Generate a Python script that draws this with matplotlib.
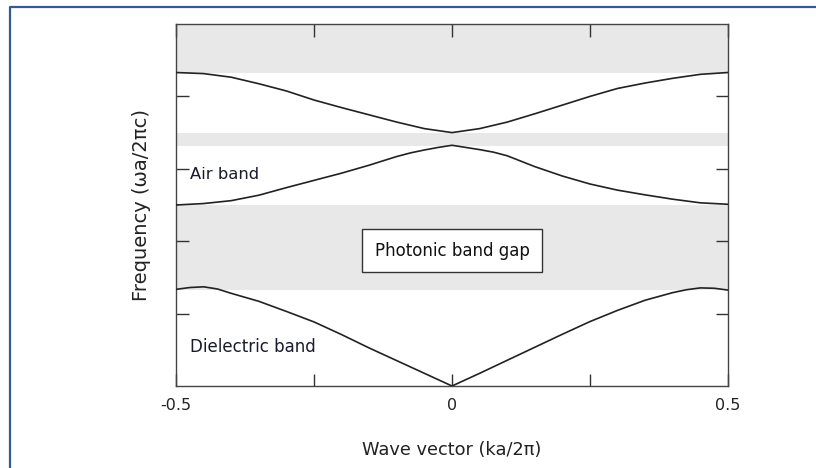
import matplotlib
matplotlib.use("Agg")
import matplotlib.pyplot as plt
from matplotlib.lines import Line2D

# band data (x in ka/2pi, y in wa/2pic, scaled 0..1)
x_diel = [-0.5, -0.475, -0.45, -0.425, -0.4, -0.35, -0.3, -0.25, -0.2, -0.15, -0.1, -0.05, 0.0,
          0.05, 0.1, 0.15, 0.2, 0.25, 0.3, 0.35, 0.4, 0.425, 0.45, 0.475, 0.5]
y_diel = [0.267, 0.272, 0.274, 0.268, 0.256, 0.234, 0.206, 0.177, 0.142, 0.105, 0.070, 0.035, 0.0,
          0.035, 0.071, 0.107, 0.143, 0.178, 0.209, 0.237, 0.258, 0.266, 0.271, 0.270, 0.265]

x_air = [-0.5, -0.45, -0.4, -0.35, -0.3, -0.25, -0.2, -0.15, -0.1, -0.075, -0.05, -0.025, 0.0,
         0.025, 0.05, 0.075, 0.1, 0.15, 0.2, 0.25, 0.3, 0.35, 0.4, 0.45, 0.5]
y_air = [0.500, 0.504, 0.512, 0.527, 0.548, 0.568, 0.588, 0.610, 0.634, 0.644, 0.652, 0.659, 0.665,
         0.659, 0.653, 0.646, 0.636, 0.606, 0.580, 0.558, 0.541, 0.528, 0.516, 0.506, 0.502]

x_top = [-0.5, -0.45, -0.4, -0.35, -0.3, -0.25, -0.2, -0.15, -0.1, -0.05, 0.0,
         0.05, 0.1, 0.15, 0.2, 0.25, 0.3, 0.35, 0.4, 0.45, 0.5]
y_top = [0.866, 0.863, 0.853, 0.835, 0.815, 0.790, 0.769, 0.749, 0.729, 0.711, 0.700,
         0.711, 0.729, 0.752, 0.776, 0.800, 0.822, 0.837, 0.850, 0.861, 0.866]

# photonic gaps (lower, upper)
gaps = [(0.265, 0.500), (0.664, 0.700), (0.866, 1.0)]

xticks = [-0.5, -0.25, 0, 0.25, 0.5]
xticklabels = ["-0.5", "", "0", "", "0.5"]
yticks = [0.2, 0.4, 0.6, 0.8]

fig = plt.figure(figsize=(8.16, 4.68), dpi=100)
ax = fig.add_axes([176 / 816, 1 - 386 / 468, 552 / 816, 362 / 468])

for lo, hi in gaps:
    ax.axhspan(lo, hi, color="#e8e8e8", lw=0, zorder=0)

for xs, ys in [(x_diel, y_diel), (x_air, y_air), (x_top, y_top)]:
    ax.plot(xs, ys, color="#222222", lw=1.2, zorder=3)

ax.set_xlim(-0.5, 0.5)
ax.set_ylim(0, 1)
ax.set_xticks(xticks)
ax.set_xticklabels(xticklabels)
ax.set_yticks(yticks)
ax.set_yticklabels([])
ax.tick_params(direction="in", length=9, width=1, color="#333333",
               top=True, right=True, labelsize=11.5, labelcolor="#222222", pad=9)
for s in ax.spines.values():
    s.set_color("#444444")
    s.set_linewidth(1)

ax.set_xlabel("Wave vector (ka/2π)", fontsize=12.8, color="#222222", labelpad=20)
ax.set_ylabel("Frequency (ωa/2πc)", fontsize=14, color="#222222", labelpad=9)

ax.text(0, 0.373, "Photonic band gap", ha="center", va="center", fontsize=12,
        color="#111111", zorder=4,
        bbox=dict(boxstyle="square,pad=0.75", fc="white", ec="#333333", lw=1))
ax.text(-0.475, 0.583, "Air band", ha="left", va="center", fontsize=11.8, color="#1a1a2e")
ax.text(-0.475, 0.108, "Dielectric band", ha="left", va="center", fontsize=12, color="#1a1a2e")

# slide frame (left and top edges)
fig.add_artist(Line2D([10 / 816, 10 / 816, 1.0], [0, 1 - 7 / 468, 1 - 7 / 468],
                      transform=fig.transFigure, color="#2f5a96", lw=1.6))

fig.savefig("out.png", dpi=100)
